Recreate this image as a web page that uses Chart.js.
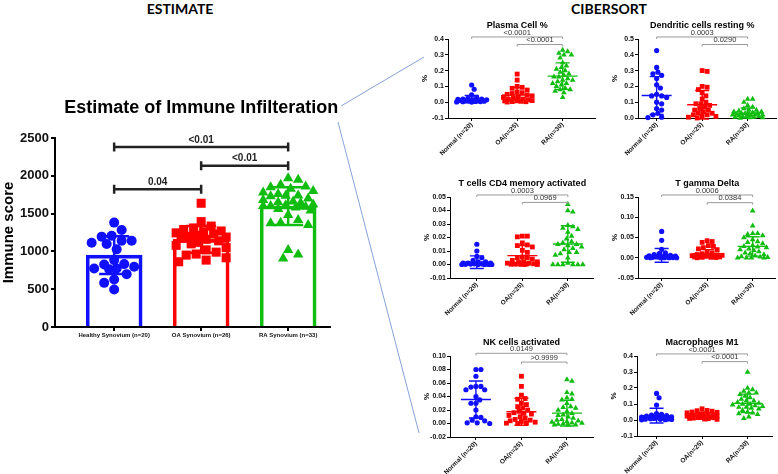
<!DOCTYPE html>
<html>
<head>
<meta charset="utf-8">
<script src="https://cdn.jsdelivr.net/npm/chart.js@4.4.1/dist/chart.umd.min.js"></script>
<style>
  html, body { margin: 0; padding: 0; background: #fff; width: 778px; height: 474px; overflow: hidden; }
  body { position: relative; }
  canvas { position: absolute; }
  .head { position: absolute; top: 0; font: bold 14px Lato, 'Open Sans', sans-serif; color: #000; transform: translateX(-50%); white-space: nowrap; }
  svg { position: absolute; left: 0; top: 0; }
</style>
</head>
<body>
<div class="head" style="left:180px">ESTIMATE</div>
<div class="head" style="left:609px">CIBERSORT</div>
<svg width="778" height="474">
  <line x1="341" y1="106" x2="424" y2="57" stroke="#86a2da" stroke-width="1"/>
  <line x1="338" y1="122" x2="419" y2="433" stroke="#86a2da" stroke-width="1"/>
</svg>
<canvas id="estimate"></canvas>
<canvas id="plasma"></canvas>
<canvas id="dendritic"></canvas>
<canvas id="cd4"></canvas>
<canvas id="tgd"></canvas>
<canvas id="nk"></canvas>
<canvas id="m1"></canvas>
<script>
'use strict';

const GROUP_COLORS = ['#1010ff', '#ff0000', '#12bd12'];
const POINT_STYLES = ['circle', 'rect', 'triangle'];

// ---- ESTIMATE: immune score per sample ----
const estimateGroups = ['Healthy Synovium (n=20)', 'OA Synovium (n=26)', 'RA Synovium (n=33)'];
const estimateTicks = [0, 500, 1000, 1500, 2000, 2500];
const healthyScore = [1381, 1283, 1208, 1195, 1142, 1142, 1115, 1097, 1027, 885, 827, 832, 774, 765, 774, 796, 699, 628, 584, 496];
const oaScore = [1637, 1394, 1335, 1310, 1290, 1270, 1260, 1245, 1230, 1215, 1200, 1190, 1175, 1160, 1140, 1120, 1100, 1080, 1050, 1020, 990, 965, 951, 916, 885, 863];
const raScore = [1969, 1947, 1880, 1858, 1850, 1830, 1800, 1780, 1760, 1740, 1735, 1730, 1700, 1680, 1660, 1650, 1640, 1620, 1610, 1600, 1600, 1590, 1580, 1560, 1540, 1482, 1416, 1372, 1350, 1380, 1018, 907, 960];
const estimateMean = [950, 1160, 1600];
const estimateSD = [250, 177, 250];
const estimatePairs = [[1, 3], [2, 3], [1, 2]];
const estimateBracketY = [2381, 2133, 1823];
const estimateP = ['<0.01', '<0.01', '0.04'];

// ---- CIBERSORT: fractions per sample ----
const cibersortGroups = ['Normal (n=20)', 'OA(n=25)', 'RA(n=30)'];
const cibersortPairs = [[1, 3], [2, 3]];

const plasmaNormal = [0.109, 0.082, 0.046, 0.03, 0.025, 0.02, 0.02, 0.018, 0.015, 0.015, 0.012, 0.01, 0.01, 0.008, 0.006, 0.005, 0.004, 0.003, 0.002, 0.001];
const plasmaOA = [0.178, 0.14, 0.10, 0.094, 0.088, 0.077, 0.065, 0.06, 0.055, 0.05, 0.045, 0.04, 0.035, 0.03, 0.025, 0.02, 0.018, 0.015, 0.012, 0.01, 0.008, 0.006, 0.004, 0.003, 0.001];
const plasmaRA = [0.33, 0.32, 0.31, 0.30, 0.30, 0.28, 0.25, 0.23, 0.22, 0.21, 0.20, 0.19, 0.18, 0.17, 0.16, 0.16, 0.15, 0.14, 0.14, 0.13, 0.12, 0.12, 0.11, 0.10, 0.09, 0.08, 0.08, 0.07, 0.06, 0.03];
const plasmaMean = [0.019, 0.046, 0.165];
const plasmaSD = [0.023, 0.048, 0.084];
const plasmaTicks = [-0.1, 0.0, 0.1, 0.2, 0.3, 0.4];
const plasmaBracketY = [0.413, 0.365];
const plasmaP = ['<0.0001', '<0.0001'];

const dendNormal = [0.427, 0.32, 0.29, 0.28, 0.27, 0.25, 0.21, 0.19, 0.15, 0.14, 0.14, 0.13, 0.10, 0.09, 0.06, 0.05, 0.03, 0.02, 0.005, 0.003];
const dendOA = [0.30, 0.295, 0.20, 0.195, 0.18, 0.16, 0.14, 0.12, 0.10, 0.09, 0.09, 0.08, 0.07, 0.06, 0.05, 0.05, 0.04, 0.03, 0.03, 0.02, 0.02, 0.01, 0.01, 0.005, 0.0];
const dendRA = [0.12, 0.12, 0.10, 0.08, 0.07, 0.06, 0.05, 0.05, 0.045, 0.04, 0.04, 0.035, 0.03, 0.03, 0.03, 0.025, 0.025, 0.02, 0.02, 0.02, 0.015, 0.015, 0.01, 0.01, 0.01, 0.005, 0.005, 0.003, 0.002, 0.0];
const dendMean = [0.142, 0.084, 0.031];
const dendSD = [0.12, 0.09, 0.032];
const dendTicks = [0.0, 0.1, 0.2, 0.3, 0.4, 0.5];
const dendBracketY = [0.513, 0.465];
const dendP = ['0.0003', '0.0290'];

const cd4Normal = [0.015, 0.010, 0.006, 0.005, 0.003, 0.002, 0.002, 0.001, 0.001, 0.001, 0.0005, 0.0005, 0.0003, 0.0002, 0.0001, 0, 0, 0, 0, 0];
const cd4OA = [0.021, 0.021, 0.0205, 0.016, 0.0145, 0.014, 0.013, 0.0105, 0.009, 0.0055, 0.005, 0.005, 0.004, 0.003, 0.002, 0.002, 0.0015, 0.001, 0.001, 0.0005, 0.0003, 0.0002, 0.0001, 0, 0];
const cd4RA = [0.0446, 0.040, 0.039, 0.029, 0.028, 0.027, 0.026, 0.024, 0.021, 0.019, 0.017, 0.016, 0.015, 0.015, 0.014, 0.013, 0.012, 0.011, 0.009, 0.009, 0.008, 0.007, 0.005, 0.001, 0, 0, 0, 0, 0, 0];
const cd4Mean = [0.0017, 0.0066, 0.0152];
const cd4SD = [0.0047, 0.0074, 0.0135];
const cd4Ticks = [-0.01, 0.0, 0.01, 0.02, 0.03, 0.04, 0.05];
const cd4BracketY = [0.0515, 0.046];
const cd4P = ['0.0003', '0.0969'];

const tgdNormal = [0.065, 0.043, 0.021, 0.012, 0.01, 0.008, 0.006, 0.005, 0.004, 0.003, 0.002, 0.002, 0.001, 0.001, 0.0005, 0, 0, 0, 0, 0];
const tgdOA = [0.042, 0.04, 0.038, 0.03, 0.028, 0.025, 0.022, 0.02, 0.015, 0.012, 0.01, 0.008, 0.007, 0.006, 0.005, 0.005, 0.004, 0.003, 0.003, 0.002, 0.002, 0.001, 0.001, 0.0005, 0];
const tgdRA = [0.116, 0.079, 0.06, 0.06, 0.058, 0.055, 0.05, 0.045, 0.04, 0.038, 0.035, 0.03, 0.028, 0.027, 0.025, 0.022, 0.02, 0.018, 0.015, 0.012, 0.01, 0.008, 0.005, 0.003, 0.002, 0.001, 0, 0, 0, 0];
const tgdMean = [0.006, 0.010, 0.028];
const tgdSD = [0.017, 0.010, 0.024];
const tgdTicks = [-0.05, 0.0, 0.05, 0.10, 0.15];
const tgdBracketY = [0.155, 0.136];
const tgdP = ['0.0006', '0.0384'];

const nkNormal = [0.08, 0.08, 0.07, 0.055, 0.055, 0.054, 0.05, 0.05, 0.04, 0.035, 0.03, 0.03, 0.02, 0.01, 0.009, 0.005, 0.004, 0.001, 0.001, 0.0];
const nkOA = [0.07, 0.055, 0.042, 0.037, 0.036, 0.03, 0.028, 0.025, 0.023, 0.02, 0.018, 0.016, 0.015, 0.014, 0.012, 0.01, 0.008, 0.006, 0.005, 0.004, 0.003, 0.002, 0.001, 0.0005, 0];
const nkRA = [0.065, 0.063, 0.046, 0.044, 0.038, 0.036, 0.035, 0.030, 0.025, 0.024, 0.023, 0.02, 0.018, 0.015, 0.013, 0.012, 0.01, 0.008, 0.006, 0.005, 0.004, 0.003, 0.002, 0.001, 0.0005, 0, -0.001, -0.002, -0.002, -0.002];
const nkMean = [0.0356, 0.0173, 0.0153];
const nkSD = [0.0274, 0.020, 0.019];
const nkTicks = [-0.02, 0.0, 0.02, 0.04, 0.06, 0.08, 0.10];
const nkBracketY = [0.104, 0.091];
const nkP = ['0.0149', '>0.9999'];

const m1Normal = [0.166, 0.139, 0.093, 0.04, 0.035, 0.03, 0.028, 0.025, 0.02, 0.018, 0.015, 0.012, 0.01, 0.008, 0.006, 0.005, 0.004, 0.003, 0.002, 0.001];
const m1OA = [0.07, 0.06, 0.058, 0.055, 0.05, 0.048, 0.045, 0.04, 0.038, 0.035, 0.032, 0.03, 0.028, 0.026, 0.024, 0.022, 0.02, 0.018, 0.016, 0.014, 0.012, 0.01, 0.008, 0.006, 0.004];
const m1RA = [0.30, 0.20, 0.19, 0.18, 0.17, 0.17, 0.16, 0.15, 0.14, 0.13, 0.12, 0.12, 0.11, 0.105, 0.10, 0.10, 0.095, 0.09, 0.085, 0.08, 0.08, 0.075, 0.07, 0.06, 0.05, 0.045, 0.04, 0.035, 0.02, 0.01];
const m1Mean = [0.027, 0.025, 0.104];
const m1SD = [0.046, 0.02, 0.058];
const m1Ticks = [-0.1, 0.0, 0.1, 0.2, 0.3, 0.4];
const m1BracketY = [0.413, 0.365];
const m1P = ['<0.0001', '<0.0001'];

Chart.defaults.font.family = "'Liberation Sans', Arial, sans-serif";
Chart.defaults.color = '#000';

// beeswarm: horizontal offset (x units) so markers of diameter d don't overlap,
// capped at maxHalf px either side (dense spots are allowed to overlap, like Prism)
function swarmOffsets(values, pxPerX, pxPerY, d, maxHalf) {
  const placed = [];
  const out = new Array(values.length).fill(0);
  const order = values.map((_, i) => i).sort((a, b) => values[b] - values[a]);
  for (const i of order) {
    const py = values[i] * pxPerY;
    let best = 0, bestScore = -Infinity;
    for (let k = 0; ; k++) {
      const step = Math.ceil(k / 2) * d * 0.25;
      if (step > maxHalf) break;
      const cand = k % 2 ? step : -step;
      const near = placed.reduce((m, p) => Math.min(m, (p.x - cand) ** 2 + (p.y - py) ** 2), Infinity);
      if (near >= d * d * 0.95) { best = cand; break; }
      if (near > bestScore) { bestScore = near; best = cand; }
    }
    placed.push({ x: best, y: py });
    out[i] = best / pxPerX;
  }
  return out;
}

function scatterSets(groups, pxPerX, pxPerY, d, maxHalf, radii) {
  return groups.map((vals, g) => {
    const off = swarmOffsets(vals, pxPerX, pxPerY, d, maxHalf);
    return {
      type: 'scatter',
      data: vals.map((v, i) => ({ x: g + 1 + off[i], y: v })),
      pointStyle: POINT_STYLES[g],
      pointRadius: radii[g],
      backgroundColor: GROUP_COLORS[g],
      borderColor: GROUP_COLORS[g],
      borderWidth: 0,
      clip: false,
      order: 1,
    };
  });
}

function errorBarPlugin(means, sds, lw, capHalf, meanHalf) {
  return {
    id: 'errorBars',
    afterDatasetsDraw(chart) {
      const { ctx, scales: { x, y } } = chart;
      ctx.save();
      ctx.lineWidth = lw;
      means.forEach((m, i) => {
        const cx = x.getPixelForValue(i + 1);
        const top = y.getPixelForValue(m + sds[i]);
        const bot = y.getPixelForValue(m - sds[i]);
        ctx.strokeStyle = GROUP_COLORS[i];
        ctx.beginPath();
        ctx.moveTo(cx, top); ctx.lineTo(cx, bot);
        ctx.moveTo(cx - capHalf, top); ctx.lineTo(cx + capHalf, top);
        ctx.moveTo(cx - capHalf, bot); ctx.lineTo(cx + capHalf, bot);
        if (meanHalf) {
          const my = y.getPixelForValue(m);
          ctx.moveTo(cx - meanHalf, my); ctx.lineTo(cx + meanHalf, my);
        }
        ctx.stroke();
      });
      ctx.restore();
    },
  };
}

function bracketPlugin(pairs, levels, texts, st) {
  return {
    id: 'brackets',
    afterDraw(chart) {
      const { ctx, scales: { x, y } } = chart;
      ctx.save();
      pairs.forEach(([a, b], i) => {
        const x1 = x.getPixelForValue(a), x2 = x.getPixelForValue(b);
        const py = y.getPixelForValue(levels[i]);
        ctx.strokeStyle = st.line;
        ctx.lineWidth = st.width;
        ctx.beginPath();
        ctx.moveTo(x1, py + st.capDown); ctx.lineTo(x1, py - st.capUp);
        ctx.moveTo(x1, py); ctx.lineTo(x2, py);
        ctx.moveTo(x2, py + st.capDown); ctx.lineTo(x2, py - st.capUp);
        ctx.stroke();
        ctx.fillStyle = st.text;
        ctx.font = st.font;
        ctx.textAlign = 'center';
        ctx.textBaseline = 'bottom';
        ctx.fillText(texts[i], (x1 + x2) / 2, py - st.gap);
      });
      ctx.restore();
    },
  };
}

function titlePlugin(text, font, above) {
  return {
    id: 'panelTitle',
    afterDraw(chart) {
      const { ctx, chartArea, scales: { x } } = chart;
      ctx.save();
      ctx.font = font;
      ctx.fillStyle = '#000';
      ctx.textAlign = 'center';
      ctx.textBaseline = 'middle';
      ctx.fillText(text, x.getPixelForValue(2), chartArea.top - above);
      ctx.restore();
    },
  };
}

function place(canvas, left, top, w, h) {
  canvas.width = w; canvas.height = h;
  canvas.style.left = left + 'px'; canvas.style.top = top + 'px';
  canvas.style.width = w + 'px'; canvas.style.height = h + 'px';
}

function axes(o) {
  return {
    x: {
      type: 'linear', min: o.xMin, max: o.xMax, offset: false,
      afterBuildTicks: s => { s.ticks = [1, 2, 3].map(v => ({ value: v })); },
      afterFit: s => { s.height = o.xH; },
      ticks: {
        callback: v => o.labels[v - 1], autoSkip: false,
        minRotation: o.rot, maxRotation: o.rot, padding: o.xPad,
        font: { size: o.xFont, weight: 'bold' }, color: '#111',
      },
      grid: { offset: false, drawOnChartArea: false, drawTicks: true, tickLength: o.tickLen, color: '#000', lineWidth: o.axisW },
      border: { display: true, color: '#000', width: o.axisW },
    },
    y: {
      type: 'linear', min: o.ticks[0], max: o.ticks[o.ticks.length - 1],
      afterBuildTicks: s => { s.ticks = o.ticks.map(v => ({ value: v })); },
      afterFit: s => { s.width = o.yW; },
      ticks: {
        callback: v => v.toFixed(o.dec), padding: o.yPad,
        font: { size: o.yFont, weight: 'bold' }, color: '#111',
      },
      title: { display: true, text: o.yTitle, padding: 0, font: { size: o.yTitleFont, weight: 'bold' }, color: '#000' },
      grid: { drawOnChartArea: false, drawTicks: true, tickLength: o.tickLen, color: '#000', lineWidth: o.axisW },
      border: { display: true, color: '#000', width: o.axisW },
    },
  };
}

function drawEstimate() {
  const areaLeft = 55, areaTop = 138, areaW = 275, areaH = 189;
  const padTop = 43, yW = 55, xH = 18, padRight = 15;
  const xMin = 0.32, xMax = xMin + areaW / 87;
  const canvas = document.getElementById('estimate');
  place(canvas, areaLeft - yW, areaTop - padTop, yW + areaW + padRight, padTop + areaH + xH);
  const yMax = estimateTicks[estimateTicks.length - 1];
  const pts = scatterSets([healthyScore, oaScore, raScore], 87, areaH / yMax, 10, 27, [5, 6.4, 6]);
  const bars = {
    type: 'bar',
    data: estimateMean.map((m, i) => ({ x: i + 1, y: m })),
    backgroundColor: 'rgba(255,255,255,0)',
    borderColor: GROUP_COLORS,
    borderWidth: 3,
    barThickness: 56,
    grouped: false,
    order: 2,
  };
  new Chart(canvas, {
    type: 'scatter',
    data: { datasets: [bars, ...pts] },
    options: {
      responsive: false, animation: false, events: [],
      layout: { padding: { top: padTop, right: padRight, left: 0, bottom: 0 } },
      plugins: { legend: { display: false }, tooltip: { enabled: false } },
      scales: axes({
        xMin, xMax, xH, labels: estimateGroups, rot: 0, xPad: 1, xFont: 6,
        tickLen: 4, axisW: 2, ticks: estimateTicks, yW, dec: 0, yPad: 2, yFont: 13,
        yTitle: 'Immune score', yTitleFont: 15,
      }),
    },
    plugins: [
      errorBarPlugin(estimateMean, estimateSD, 2.5, 15, 0),
      bracketPlugin(estimatePairs, estimateBracketY, estimateP,
        { line: '#222', width: 2.5, capUp: 4.5, capDown: 4.5, text: '#222', font: 'bold 10px "Liberation Sans", Arial', gap: 2 }),
      titlePlugin('Estimate of Immune Infilteration', 'bold 18px "Liberation Sans", Arial', 30),
    ],
  });
}

function drawPanel(id, geo, title, groups, means, sds, ticks, dec, levels, texts) {
  const padTop = 30, yW = 28, xH = 44, padRight = 4, unit = 45.5;
  const xMax = geo.xMin + geo.w / unit;
  const canvas = document.getElementById(id);
  place(canvas, geo.left - yW, geo.top - padTop, yW + geo.w + padRight, padTop + geo.h + xH);
  const pxPerY = geo.h / (ticks[ticks.length - 1] - ticks[0]);
  const pts = scatterSets(groups, unit, pxPerY, 5, 15, [2.6, 3.4, 3.3]);
  new Chart(canvas, {
    type: 'scatter',
    data: { datasets: pts },
    options: {
      responsive: false, animation: false, events: [],
      layout: { padding: { top: padTop, right: padRight, left: 0, bottom: 0 } },
      plugins: { legend: { display: false }, tooltip: { enabled: false } },
      scales: axes({
        xMin: geo.xMin, xMax, xH, labels: cibersortGroups, rot: 45, xPad: 0, xFont: 6.5,
        tickLen: 3, axisW: 1, ticks, yW, dec, yPad: 1, yFont: 7,
        yTitle: '%', yTitleFont: 8,
      }),
    },
    plugins: [
      errorBarPlugin(means, sds, 1.4, 7, 15),
      bracketPlugin(cibersortPairs, levels, texts,
        { line: '#9a9a9a', width: 1, capUp: 0, capDown: 2, text: '#333', font: '7.5px "Liberation Sans", Arial', gap: 0.5 }),
      titlePlugin(title, 'bold 9px "Liberation Sans", Arial', 13),
    ],
  });
}

drawEstimate();
drawPanel('plasma', { left: 448, top: 39, w: 147, h: 79, xMin: 0.48 }, 'Plasma Cell %',
  [plasmaNormal, plasmaOA, plasmaRA], plasmaMean, plasmaSD, plasmaTicks, 1, plasmaBracketY, plasmaP);
drawPanel('dendritic', { left: 638, top: 39, w: 138, h: 79, xMin: 0.59 }, 'Dendritic cells resting %',
  [dendNormal, dendOA, dendRA], dendMean, dendSD, dendTicks, 1, dendBracketY, dendP);
drawPanel('cd4', { left: 450, top: 197, w: 143, h: 81, xMin: 0.41 }, 'T cells CD4 memory activated',
  [cd4Normal, cd4OA, cd4RA], cd4Mean, cd4SD, cd4Ticks, 2, cd4BracketY, cd4P);
drawPanel('tgd', { left: 638, top: 197, w: 137, h: 81, xMin: 0.48 }, 'T gamma Delta',
  [tgdNormal, tgdOA, tgdRA], tgdMean, tgdSD, tgdTicks, 2, tgdBracketY, tgdP);
drawPanel('nk', { left: 450, top: 356, w: 143, h: 81, xMin: 0.43 }, 'NK cells activated',
  [nkNormal, nkOA, nkRA], nkMean, nkSD, nkTicks, 2, nkBracketY, nkP);
drawPanel('m1', { left: 637, top: 356, w: 135, h: 80, xMin: 0.57 }, 'Macrophages M1',
  [m1Normal, m1OA, m1RA], m1Mean, m1SD, m1Ticks, 1, m1BracketY, m1P);
</script>
</body>
</html>
